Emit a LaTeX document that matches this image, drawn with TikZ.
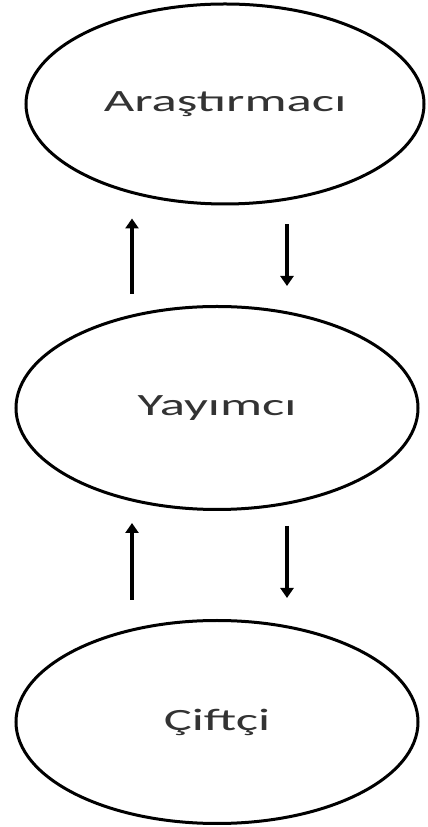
\documentclass[tikz,border=0pt]{standalone}
\usepackage{fontspec}
\setmainfont{Carlito}
\usepackage{graphicx}
\usetikzlibrary{arrows.meta, positioning, shapes.geometric}

% wide lettering used inside the ellipses
\newcommand{\widetxt}[1]{\scalebox{1.7}[1]{#1}}

\begin{document}
\begin{tikzpicture}[
  x=1pt, y=1pt,
  actor/.style={draw, ellipse, line width=3pt, inner sep=0pt,
               minimum width=402pt, minimum height=203pt,
               font=\fontsize{31}{31}\selectfont, text=black!80},
  arr/.style={-{Triangle[length=10pt, width=13pt]}, line width=3.2pt}
]
\useasboundingbox (0,0) rectangle (428,827);

\node[actor, minimum width=398pt, minimum height=200pt] (res) at (225,723) {\widetxt{Araştırmacı}};
\node[actor] (ext) at (217,419) {\widetxt{Yayımcı}};
\node[actor] (farm) at (217,105) {\widetxt{Çiftçi}};

\coordinate (lx) at (132,0);
\coordinate (rx) at (287,0);

\draw[arr, shorten <=11pt, shorten >=13pt] (ext.north -| lx) -- (res.south -| lx);
\draw[arr, shorten <=19pt, shorten >=19pt] (res.south -| rx) -- (ext.north -| rx);
\draw[arr, shorten <=19pt, shorten >=12pt] (farm.north -| lx) -- (ext.south -| lx);
\draw[arr, shorten <=15pt, shorten >=21pt] (ext.south -| rx) -- (farm.north -| rx);
\end{tikzpicture}
\end{document}
